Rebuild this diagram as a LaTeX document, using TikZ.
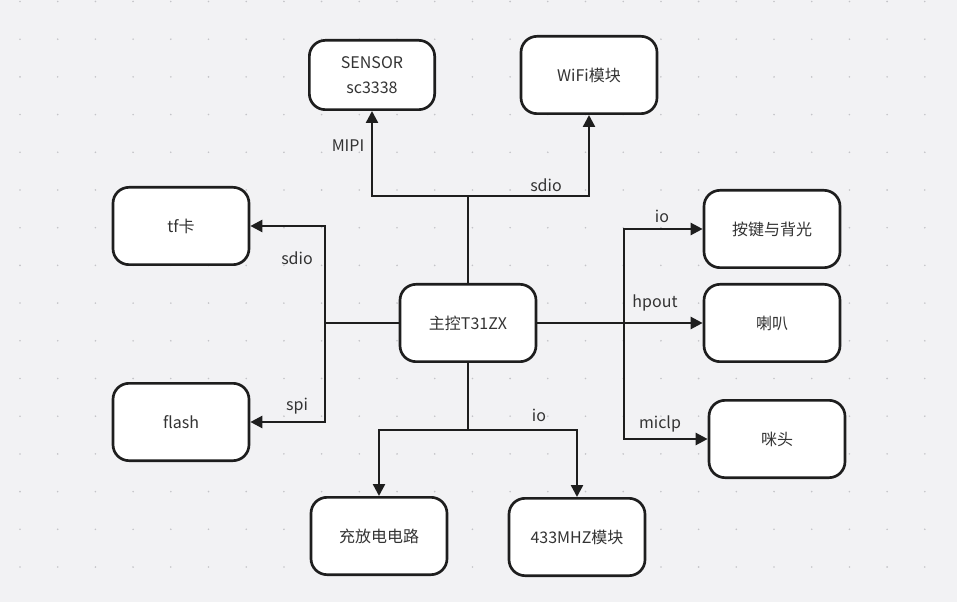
\documentclass[tikz,border=0pt]{standalone}
\usepackage{fontspec}
\setmainfont{Noto Sans CJK SC}
\usetikzlibrary{arrows.meta,positioning}
\definecolor{canvas}{HTML}{F2F2F4}
\definecolor{griddot}{HTML}{C4C4C8}
\definecolor{ink}{HTML}{1E1E1E}
\definecolor{txt}{HTML}{333333}

\begin{document}
\begin{tikzpicture}[x=0.75pt,y=-0.75pt,>={Triangle[length=9pt,width=9pt]},
 block/.style={draw=ink,line width=2pt,rounded corners=12pt,fill=white,align=center,
 font=\fontsize{12}{15}\selectfont,text=txt,minimum width=102pt,minimum height=58pt},
 wire/.style={draw=ink,line width=1.8pt},
 tag/.style={font=\fontsize{12}{14}\selectfont,text=txt,inner sep=1pt}]
\fill[canvas] (0,0) rectangle (957,602);
\useasboundingbox (0,0) rectangle (957,602);
% dotted canvas
\foreach \i in {0,...,25}
  \foreach \j in {0,...,16}
    \fill[griddot] (20+37.7*\i,1.5+37.7*\j) circle (0.9);
\node[block] (main) at (468,323) {主控T31ZX};
\node[block,minimum width=94pt,minimum height=52pt] (sensor) at (372,75) {SENSOR\\[4pt]sc3338};
\node[block] (wifi) at (589,75) {WiFi模块};
\node[block] (tfcard) at (181,226) {tf卡};
\node[block] (flash) at (181,422) {flash};
\node[block] (keys) at (772,229) {按键与背光};
\node[block] (speaker) at (772,323) {喇叭};
\node[block] (mic) at (777,439) {咪头};
\node[block] (charge) at (379,536) {充放电电路};
\node[block] (rf) at (577,537) {433MHZ模块};
\coordinate (topbus) at (468,196);
\coordinate (leftbus) at (325,323);
\coordinate (rightbus) at (624,323);
\coordinate (botbus) at (468,430);
% upper branch
\draw[wire] (main.north) -- (topbus);
\draw[wire,->] (topbus) -| (sensor.south);
\draw[wire,->] (topbus) -| (wifi.south);
\node[tag] (lblmipi) at (348,146) {MIPI};
\node[tag] (lblsdioa) at (546,185) {sdio};
% left branch
\draw[wire] (main.west) -- (leftbus);
\draw[wire,->] (leftbus) |- (tfcard.east);
\draw[wire,->] (leftbus) |- (flash.east);
\node[tag] (lblsdiob) at (297,258) {sdio};
\node[tag] (lblspi) at (297,406) {spi};
% right branch
\draw[wire,->] (main.east) -- (speaker.west);
\draw[wire,->] (rightbus) |- (keys.west);
\draw[wire,->] (rightbus) |- (mic.west);
\node[tag] (lblio) at (662,216) {io};
\node[tag] (lblhp) at (655,303) {hpout};
\node[tag] (lblmic) at (660,424) {miclp};
% lower branch
\draw[wire] (main.south) -- (botbus);
\draw[wire,->] (botbus) -| (charge.north);
\draw[wire,->] (botbus) -| (rf.north);
\node[tag] (lbliob) at (539,415) {io};
\end{tikzpicture}
\end{document}
